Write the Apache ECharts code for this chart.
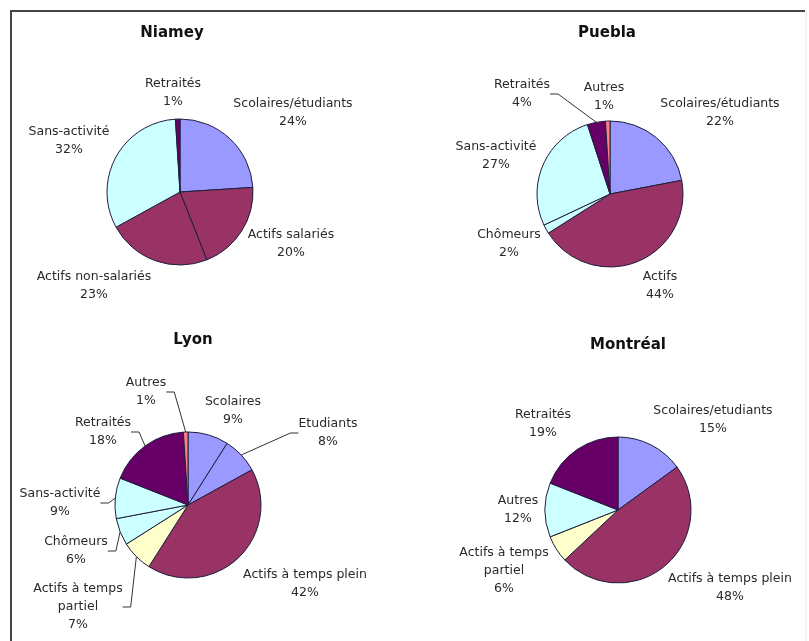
<!DOCTYPE html>
<html>
<head>
<meta charset="utf-8">
<script src="https://cdn.jsdelivr.net/npm/echarts@6/dist/echarts.min.js"></script>
<style>
html,body{margin:0;padding:0;background:#fff;}
#c{width:809px;height:641px;}
</style>
</head>
<body>
<div id="c"></div>
<script>
// ---------- DATA ----------
const niameyCategories = ['Scolaires/étudiants', 'Actifs salariés', 'Actifs non-salariés', 'Sans-activité', 'Retraités'];
const niameyValues = [24, 20, 23, 32, 1];

const pueblaCategories = ['Scolaires/étudiants', 'Actifs', 'Chômeurs', 'Sans-activité', 'Retraités', 'Autres'];
const pueblaValues = [22, 44, 2, 27, 4, 1];

const lyonCategories = ['Scolaires', 'Etudiants', 'Actifs à temps plein', 'Actifs à temps\npartiel', 'Chômeurs', 'Sans-activité', 'Retraités', 'Autres'];
const lyonValues = [9, 8, 42, 7, 6, 9, 18, 1];

const montrealCategories = ['Scolaires/etudiants', 'Actifs à temps plein', 'Actifs à temps\npartiel', 'Autres', 'Retraités'];
const montrealValues = [15, 48, 6, 12, 19];

const cityTitles = ['Niamey', 'Puebla', 'Lyon', 'Montréal'];

// ---------- STYLE / LAYOUT ----------
const C = {scol:'#9999FF', actif:'#993366', cyan:'#CCFFFF', ret:'#660066', autres:'#FF8080', partiel:'#FFFFCC'};
const charts = [
  {cats: niameyCategories, vals: niameyValues, center: [180, 192],
   colors: [C.scol, C.actif, C.actif, C.cyan, C.ret],
   lines: [false, false, false, false, false],
   labelPos: [[293,113],[291,244],[94,286],[69,141],[173,93]],
   title: [172, 33]},
  {cats: pueblaCategories, vals: pueblaValues, center: [610, 194],
   colors: [C.scol, C.actif, C.cyan, C.cyan, C.ret, C.autres],
   lines: [false, false, false, false, true, false],
   labelPos: [[720,113],[660,286],[509,244],[496,156],[522,94],[604,97]],
   title: [607, 33]},
  {cats: lyonCategories, vals: lyonValues, center: [188, 505],
   colors: [C.scol, C.scol, C.actif, C.partiel, C.cyan, C.cyan, C.ret, C.autres],
   lines: [false, true, false, true, true, true, true, true],
   labelPos: [[233,411],[328,433],[305,584],[78,607],[76,551],[60,503],[103,432],[146,392]],
   title: [193, 340]},
  {cats: montrealCategories, vals: montrealValues, center: [618, 510],
   colors: [C.scol, C.actif, C.partiel, C.cyan, C.ret],
   lines: [false, false, false, false, false],
   labelPos: [[713,420],[730,588],[504,571],[518,510],[543,424]],
   title: [628, 345]}
];

const FONT = 'DejaVu Sans';

const series = charts.map((ch, si) => ({
  type: 'pie',
  center: ch.center,
  radius: 73,
  startAngle: 90,
  clockwise: true,
  avoidLabelOverlap: false,
  animation: false,
  silent: true,
  itemStyle: {borderColor: '#1e1e3c', borderWidth: 1},
  label: {
    show: true,
    position: 'outside',
    formatter: '{b}\n{c}%',
    fontFamily: FONT,
    fontSize: 12.5,
    lineHeight: 18,
    color: '#2a2a2a'
  },
  labelLine: {show: true, length: 8, length2: 8, lineStyle: {color: '#333', width: 1}},
  labelLayout: function (p) {
    const pos = charts[si].labelPos[p.dataIndex];
    return {x: pos[0], y: pos[1], align: 'center', verticalAlign: 'middle'};
  },
  data: ch.cats.map((name, i) => ({
    name: name,
    value: ch.vals[i],
    itemStyle: {color: ch.colors[i]},
    labelLine: {show: ch.lines[i]}
  }))
}));

const graphics = [
  {type: 'polyline', shape: {points: [[11, 641], [11, 11], [805, 11]]}, style: {stroke: '#444', lineWidth: 2, fill: null}, silent: true},
  {type: 'line', shape: {x1: 806, y1: 11, x2: 806, y2: 641}, style: {stroke: '#e6e6e6', lineWidth: 1}, silent: true}
].concat(charts.map((ch, i) => ({
  type: 'text',
  x: ch.title[0], y: ch.title[1],
  style: {text: cityTitles[i], fontFamily: FONT, fontWeight: 'bold', fontSize: 15, fill: '#111', align: 'center', verticalAlign: 'middle'},
  silent: true
})));

const chart = echarts.init(document.getElementById('c'), null, {renderer: 'canvas'});
chart.setOption({
  backgroundColor: '#ffffff',
  animation: false,
  graphic: graphics,
  series: series
});
</script>
</body>
</html>
